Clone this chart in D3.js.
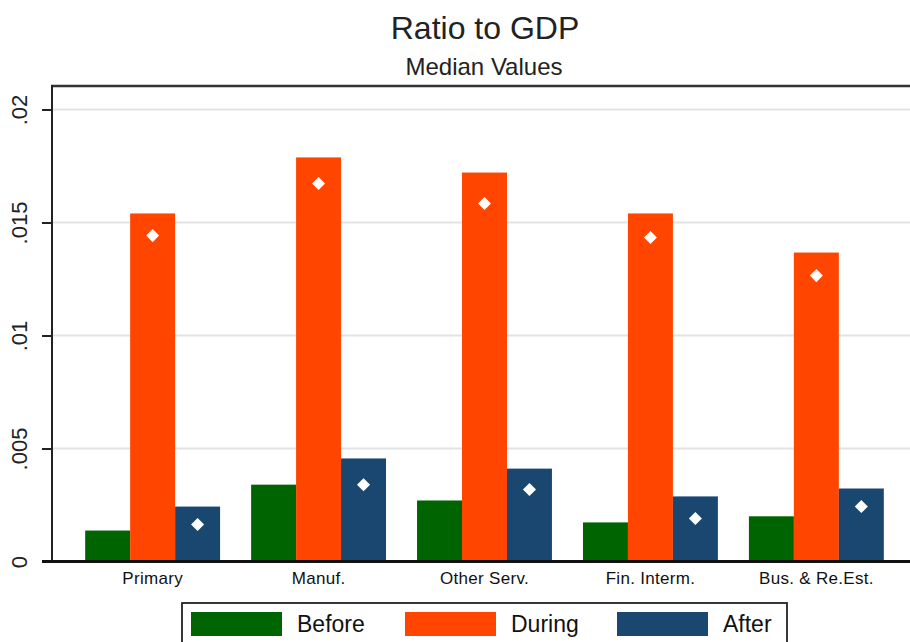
<!DOCTYPE html>
<html>
<head>
<meta charset="utf-8">
<script src="https://cdn.jsdelivr.net/npm/d3@7"></script>
<style>
  html, body { margin: 0; padding: 0; background: #fff; }
  svg { display: block; font-family: "Liberation Sans", Arial, sans-serif; }
</style>
</head>
<body>
<svg id="chart" width="910" height="642"></svg>
<script>
// ---- data ----
const categories = ["Primary", "Manuf.", "Other Serv.", "Fin. Interm.", "Bus. & Re.Est."];
const seriesNames = ["Before", "During", "After"];
const beforeValues = [0.00137, 0.00340, 0.00270, 0.00173, 0.00200];
const duringValues = [0.01540, 0.01788, 0.01721, 0.01540, 0.01367];
const afterValues  = [0.00243, 0.00456, 0.00411, 0.00288, 0.00323];
// white diamond markers (shown on During and After bars)
const duringMarkers = [0.01442, 0.01673, 0.01584, 0.01434, 0.01265];
const afterMarkers  = [0.00164, 0.00340, 0.00319, 0.00190, 0.00243];
const yTicks = [0, 0.005, 0.01, 0.015, 0.02];
const yTickLabels = ["0", ".005", ".01", ".015", ".02"];
const title = "Ratio to GDP";
const subtitle = "Median Values";

const colors = { Before: "#006400", During: "#FF4500", After: "#1A476F" };

// ---- layout ----
const svg = d3.select("#chart");
const plotLeft = 52, plotRight = 917, plotTop = 86, plotBottom = 561.5;

const y = d3.scaleLinear().domain([0, 0.02]).range([plotBottom, 109.5]);
const x0 = d3.scaleBand().domain(categories).range([plotLeft, plotRight])
  .paddingInner(0.187).paddingOuter(0.2);
const x1 = d3.scaleBand().domain(seriesNames).range([0, x0.bandwidth()]).padding(0);

const seriesData = { Before: beforeValues, During: duringValues, After: afterValues };
const markerData = { During: duringMarkers, After: afterMarkers };

// titles
svg.append("text").attr("x", 485).attr("y", 39).attr("text-anchor", "middle")
  .attr("font-size", 32).attr("fill", "#222").text(title);
svg.append("text").attr("x", 484).attr("y", 75).attr("text-anchor", "middle")
  .attr("font-size", 24).attr("fill", "#222").text(subtitle);

// gridlines
svg.append("g").selectAll("line").data(yTicks.filter(t => t > 0)).join("line")
  .attr("x1", plotLeft).attr("x2", 910)
  .attr("y1", d => y(d)).attr("y2", d => y(d))
  .attr("stroke", "#e3e3e3").attr("stroke-width", 2);

// bars
const groups = svg.append("g").selectAll("g").data(categories).join("g")
  .attr("transform", d => `translate(${x0(d)},0)`);

seriesNames.forEach(s => {
  groups.append("rect")
    .attr("x", x1(s))
    .attr("width", x1.bandwidth())
    .attr("y", (d, i) => y(seriesData[s][i]))
    .attr("height", (d, i) => y(0) - y(seriesData[s][i]))
    .attr("fill", colors[s]);
});

// diamond markers
const diamond = d3.symbol().type(d3.symbolSquare).size(85);
Object.keys(markerData).forEach(s => {
  groups.append("path")
    .attr("d", diamond())
    .attr("fill", "#fff")
    .attr("transform", (d, i) => `translate(${x1(s) + x1.bandwidth() / 2},${y(markerData[s][i])}) rotate(45)`);
});

// frame top
svg.append("line").attr("x1", plotLeft - 1).attr("x2", 910)
  .attr("y1", plotTop).attr("y2", plotTop)
  .attr("stroke", "#333").attr("stroke-width", 2.5);

// y axis
const yAxis = d3.axisLeft(y).tickValues(yTicks)
  .tickFormat((d, i) => yTickLabels[i]).tickSize(10).tickSizeOuter(0);
const yg = svg.append("g").attr("transform", `translate(${plotLeft},0)`).call(yAxis);
yg.select(".domain").remove();
yg.selectAll(".tick line").attr("stroke", "#222").attr("stroke-width", 2);
yg.selectAll(".tick text")
  .attr("font-size", 22).attr("fill", "#222")
  .attr("text-anchor", "middle")
  .attr("x", 0)
  .attr("transform", "translate(-33,0) rotate(-90)")
  .attr("dy", "0.35em");
svg.append("line").attr("x1", plotLeft).attr("x2", plotLeft)
  .attr("y1", plotTop - 1).attr("y2", plotBottom + 1)
  .attr("stroke", "#222").attr("stroke-width", 2);

// x axis
const xAxis = d3.axisBottom(x0).tickSize(0).tickSizeOuter(0);
const xg = svg.append("g").attr("transform", `translate(0,${plotBottom})`).call(xAxis);
xg.select(".domain").attr("stroke", "#111").attr("stroke-width", 3)
  .attr("d", `M${plotLeft - 10},0H910`);
xg.selectAll(".tick text").attr("font-size", 17).attr("fill", "#111")
  .attr("dy", "1.15em").attr("letter-spacing", "0.3px");

// legend
const legend = svg.append("g");
legend.append("rect").attr("x", 182).attr("y", 603).attr("width", 605).attr("height", 60)
  .attr("fill", "#fff").attr("stroke", "#222").attr("stroke-width", 1.8);
const legendX = [191, 405, 617];
seriesNames.forEach((s, i) => {
  legend.append("rect").attr("x", legendX[i]).attr("y", 612).attr("width", 91).attr("height", 24)
    .attr("fill", colors[s]);
  legend.append("text").attr("x", legendX[i] + 106).attr("y", 632)
    .attr("font-size", 23).attr("fill", "#111").text(s);
});
</script>
</body>
</html>
